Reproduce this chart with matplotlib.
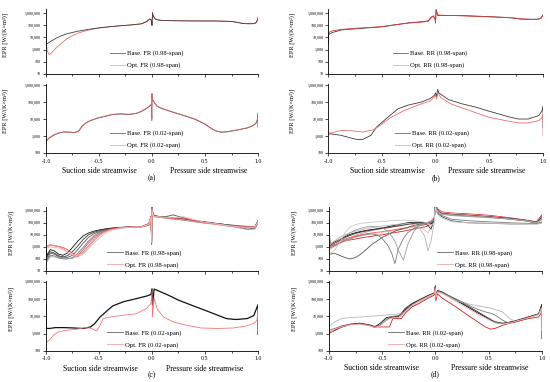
import matplotlib
matplotlib.use("Agg")
import matplotlib.pyplot as plt
from matplotlib.lines import Line2D
from matplotlib.ticker import FixedLocator, FuncFormatter, MultipleLocator, NullLocator
import matplotlib.transforms as mtransforms

# ---------------- DATA ----------------
# (a) FR, 0.98-span
A_TOP_BASE_X = [-1.0, -0.99, -0.95, -0.9, -0.85, -0.8, -0.7, -0.6, -0.5, -0.4, -0.3, -0.2, -0.1, -0.05, -0.02,
                -0.005, 0.0, 0.005, 0.01, 0.03, 0.06, 0.1, 0.2, 0.4, 0.6, 0.75, 0.8, 0.85, 0.9, 0.95, 0.98, 0.995, 1.0]
A_TOP_BASE_Y = [2500, 3000, 5000, 9000, 14000, 20000, 32000, 45000, 60000, 75000, 90000, 105000, 130000, 200000,
                330000, 250000, 100000, 1000000, 600000, 320000, 260000, 240000, 230000, 220000, 220000, 200000,
                170000, 140000, 130000, 130000, 150000, 250000, 400000]
A_TOP_OPT_X = [-1.0, -0.995, -0.99, -0.97, -0.95, -0.9, -0.85, -0.8, -0.75, -0.7, -0.6, -0.5, -0.4, -0.3, -0.2,
               -0.1, -0.05, -0.02, -0.005, 0.0, 0.005, 0.01, 0.03, 0.06, 0.1, 0.2, 0.4, 0.6, 0.75, 0.8, 0.85, 0.9,
               0.95, 0.98, 0.995, 1.0]
A_TOP_OPT_Y = [40000, 3000, 800, 400, 500, 1500, 3500, 8000, 14000, 22000, 40000, 58000, 74000, 88000, 102000,
               125000, 190000, 320000, 240000, 90000, 1100000, 650000, 330000, 265000, 245000, 235000, 225000,
               222000, 205000, 175000, 145000, 135000, 135000, 160000, 300000, 450000]

# (a) FR, 0.02-span
A_BOT_X = [-1.0, -0.97, -0.93, -0.88, -0.83, -0.78, -0.73, -0.69, -0.66, -0.62, -0.58, -0.52, -0.45, -0.38, -0.3,
           -0.22, -0.15, -0.1, -0.05, -0.02, -0.005, -0.002, 0.0, 0.003, 0.01, 0.03, 0.05, 0.1, 0.2, 0.3, 0.4, 0.5,
           0.55, 0.6, 0.65, 0.7, 0.8, 0.9, 0.95, 0.98, 0.995, 1.0, 1.0]
A_BOT_BASE_Y = [500, 750, 1100, 1500, 1750, 1700, 1600, 2000, 3800, 6000, 8000, 11000, 14000, 18000, 20000, 18500,
                21000, 28000, 42000, 60000, 70000, 10000, 300000, 150000, 120000, 80000, 55000, 40000, 25000, 16000,
                10000, 5000, 3000, 2000, 1700, 1750, 2200, 3000, 4000, 5500, 9000, 20000, 3500]
A_BOT_OPT_Y = [520, 780, 1150, 1550, 1700, 1650, 1550, 1900, 3600, 6200, 8300, 11500, 14500, 18500, 20500, 19000,
               21500, 29000, 44000, 62000, 75000, 8000, 320000, 160000, 125000, 82000, 56000, 41000, 25500, 16500,
               10500, 5200, 3100, 2050, 1700, 1750, 2250, 3050, 4100, 5700, 10000, 22000, 3000]

# (b) RR, 0.98-span
B_TOP_BASE_X = [-1.0, -1.0, -0.99, -0.96, -0.88, -0.75, -0.6, -0.5, -0.4, -0.25, -0.13, -0.07, -0.04, -0.02,
                -0.005, 0.0, 0.005, 0.02, 0.05, 0.2, 0.5, 0.7, 0.8, 0.9, 0.95, 0.98, 1.0]
B_TOP_BASE_Y = [5000, 20000, 18000, 25000, 40000, 50000, 63000, 74000, 100000, 155000, 190000, 220000, 450000,
                550000, 350000, 200000, 2000000, 630000, 620000, 630000, 500000, 400000, 310000, 300000, 310000,
                380000, 750000]
B_TOP_OPT_X = [-1.0, -1.0, -0.995, -0.98, -0.95, -0.88, -0.75, -0.6, -0.5, -0.4, -0.25, -0.13, -0.07, -0.04, -0.02,
               -0.005, 0.0, 0.005, 0.02, 0.05, 0.2, 0.5, 0.7, 0.8, 0.9, 0.95, 0.98, 1.0]
B_TOP_OPT_Y = [100000, 3000, 20000, 30000, 35000, 45000, 55000, 66000, 76000, 100000, 150000, 180000, 200000,
               400000, 600000, 300000, 150000, 1500000, 700000, 650000, 600000, 480000, 420000, 330000, 300000,
               300000, 350000, 650000]

# (b) RR, 0.02-span
B_BOT_BASE_X = [-1.0, -0.98, -0.88, -0.8, -0.73, -0.68, -0.6, -0.55, -0.48, -0.42, -0.35, -0.25, -0.13, -0.05,
                -0.01, 0.0, 0.01, 0.02, 0.03, 0.05, 0.12, 0.24, 0.37, 0.49, 0.68, 0.77, 0.86, 0.96, 0.99, 1.0, 1.0]
B_BOT_BASE_Y = [1300, 1350, 1100, 800, 620, 620, 1100, 3300, 8000, 17000, 40000, 67000, 100000, 160000, 250000,
                350000, 200000, 550000, 350000, 280000, 140000, 80000, 51000, 30000, 13500, 10000, 10000, 16000,
                30000, 60000, 3000]
B_BOT_OPT_X = [-1.0, -1.0, -0.98, -0.88, -0.77, -0.68, -0.58, -0.52, -0.42, -0.3, -0.16, -0.05, -0.01, 0.0, 0.01,
               0.02, 0.05, 0.15, 0.27, 0.49, 0.68, 0.77, 0.86, 0.96, 0.99, 1.0, 1.0]
B_BOT_OPT_Y = [5000, 1500, 1500, 2100, 2000, 1700, 2300, 4000, 12000, 30000, 67000, 115000, 200000, 250000, 150000,
               350000, 180000, 74000, 40000, 13000, 7400, 5900, 5900, 8000, 12000, 20000, 1000]

# (c) FR, 0.98-span, several time instants
C_TOP_X = [-1.0, -0.99, -0.96, -0.92, -0.88, -0.84, -0.8, -0.75, -0.7, -0.65, -0.6, -0.55, -0.5, -0.45, -0.4, -0.3,
           -0.2, -0.1, -0.03, -0.01, -0.003, 0.0, 0.01, 0.03, 0.1, 0.2, 0.3, 0.4, 0.5, 0.6, 0.7, 0.8, 0.9, 0.97, 1.0]
C_TOP_BASE = [
    [1000, 200, 600, 450, 250, 200, 300, 900, 3000, 8000, 14000, 20000, 25000, 30000, 35000, 42000, 46000, 48000,
     80000, 280000, 3000, 2000000, 500000, 380000, 300000, 230000, 180000, 140000, 110000, 85000, 65000, 50000,
     40000, 45000, 160000],
    [700, 150, 400, 300, 180, 150, 180, 400, 1200, 4000, 10000, 16000, 22000, 28000, 33000, 40000, 45000, 47000,
     70000, 320000, 2000, 1800000, 450000, 350000, 320000, 260000, 200000, 150000, 120000, 90000, 70000, 55000,
     45000, 40000, 120000],
    [500, 100, 300, 250, 150, 120, 130, 200, 600, 2000, 6000, 12000, 18000, 25000, 30000, 40000, 44000, 46000,
     60000, 250000, 1500, 1500000, 420000, 330000, 280000, 450000, 250000, 140000, 110000, 90000, 70000, 45000,
     30000, 35000, 100000],
    [400, 80, 200, 180, 120, 100, 100, 130, 300, 900, 3000, 8000, 15000, 22000, 28000, 38000, 43000, 45000, 75000,
     300000, 2500, 1900000, 480000, 360000, 300000, 220000, 170000, 130000, 100000, 85000, 70000, 60000, 50000,
     45000, 140000],
    [300, 60, 150, 150, 130, 110, 100, 110, 180, 400, 1200, 4000, 10000, 18000, 25000, 35000, 42000, 45000, 65000,
     220000, 3000, 1700000, 400000, 320000, 260000, 200000, 160000, 120000, 95000, 75000, 60000, 40000, 28000,
     30000, 90000],
]
C_TOP_OPT = [
    [1000, 1200, 1500, 1300, 1100, 900, 600, 300, 200, 600, 2000, 6000, 12000, 20000, 28000, 40000, 45000, 47000,
     90000, 350000, 3000, 1500000, 400000, 330000, 280000, 230000, 250000, 150000, 100000, 80000, 60000, 50000,
     45000, 50000, 120000],
    [800, 1000, 1300, 1200, 1000, 700, 400, 200, 150, 300, 1000, 3000, 8000, 16000, 25000, 38000, 44000, 46000,
     80000, 300000, 2000, 1300000, 380000, 300000, 260000, 200000, 180000, 130000, 90000, 75000, 55000, 45000,
     40000, 45000, 100000],
    [600, 800, 1000, 900, 800, 600, 400, 250, 200, 250, 700, 2000, 5000, 12000, 22000, 36000, 43000, 45000, 70000,
     280000, 2500, 1200000, 400000, 320000, 300000, 260000, 320000, 180000, 110000, 85000, 60000, 48000, 40000,
     42000, 140000],
]

# (c) FR, 0.02-span
C_BOT_BASE_X = [-1.0, -1.0, -0.97, -0.91, -0.83, -0.74, -0.65, -0.58, -0.54, -0.49, -0.43, -0.37, -0.27, -0.18,
                -0.05, -0.01, 0.0, 0.005, 0.02, 0.05, 0.14, 0.25, 0.35, 0.52, 0.7, 0.79, 0.9, 0.96, 1.0, 1.0]
C_BOT_BASE_Y = [40000, 2000, 1950, 2200, 2200, 2100, 1950, 2400, 3800, 9000, 19500, 40000, 70000, 95000, 150000,
                185000, 400000, 45000, 380000, 320000, 185000, 87000, 50000, 20000, 7400, 6500, 7400, 11000, 47000,
                900]
C_BOT_OPT_X = [-1.0, -0.97, -0.93, -0.88, -0.8, -0.71, -0.63, -0.57, -0.54, -0.52, -0.49, -0.46, -0.4, -0.27,
               -0.15, -0.05, -0.01, 0.0, 0.005, 0.02, 0.05, 0.11, 0.2, 0.33, 0.46, 0.62, 0.77, 0.89, 0.96, 0.99,
               1.0, 1.0]
C_BOT_OPT_Y = [300, 400, 800, 1250, 1550, 1780, 2200, 2000, 1550, 1400, 3000, 7400, 9000, 11500, 14000, 29000,
               56000, 300000, 9000, 110000, 26000, 9000, 4700, 3000, 2100, 1950, 2100, 2750, 3800, 5900, 27000, 1000]

# (d) RR, 0.98-span, several time instants
D_TOP_X = [-1.0, -0.99, -0.95, -0.9, -0.85, -0.8, -0.75, -0.7, -0.65, -0.6, -0.55, -0.5, -0.45, -0.41, -0.38,
           -0.35, -0.3, -0.26, -0.2, -0.15, -0.1, -0.07, -0.04, -0.01, 0.0, 0.02, 0.06, 0.15, 0.3, 0.5, 0.7, 0.85,
           0.95, 1.0]
D_TOP_BASE = [
    [100000, 1500, 2500, 4000, 7000, 11000, 15000, 19000, 23000, 27000, 31000, 36000, 45000, 55000, 62000, 70000,
     85000, 100000, 110000, 110000, 100000, 90000, 80000, 150000, 3000000, 1000000, 600000, 500000, 420000,
     320000, 230000, 160000, 110000, 250000],
    [30000, 1200, 2000, 3500, 6000, 9000, 13000, 17000, 21000, 25000, 30000, 35000, 40000, 45000, 50000, 55000,
     65000, 75000, 90000, 100000, 95000, 60000, 30000, 200000, 2500000, 900000, 550000, 450000, 380000, 300000,
     200000, 140000, 95000, 200000],
    [300, 250, 300, 200, 130, 100, 130, 250, 600, 1500, 3000, 6000, 10000, 15000, 20000, 25000, 32000, 42000,
     60000, 75000, 90000, 100000, 120000, 200000, 2000000, 600000, 320000, 150000, 100000, 90000, 80000, 80000,
     85000, 100000],
    [1000, 800, 1200, 2000, 3500, 5000, 7000, 9000, 11000, 12000, 10000, 5000, 1500, 300, 40, 600, 5000, 15000,
     35000, 55000, 70000, 80000, 100000, 180000, 2500000, 700000, 400000, 200000, 150000, 120000, 100000, 90000,
     80000, 120000],
    [2000, 1000, 2000, 4000, 8000, 15000, 25000, 35000, 45000, 50000, 50000, 40000, 20000, 8000, 3000, 600, 80,
     1500, 20000, 60000, 90000, 110000, 130000, 160000, 2800000, 800000, 500000, 400000, 330000, 260000, 200000,
     150000, 100000, 220000],
    [50000, 1500, 3000, 6000, 10000, 15000, 20000, 26000, 32000, 38000, 45000, 52000, 60000, 66000, 70000, 75000,
     80000, 85000, 70000, 40000, 8000, 450, 3000, 120000, 2200000, 900000, 550000, 470000, 400000, 300000, 210000,
     150000, 100000, 180000],
    [500, 300, 500, 2000, 15000, 45000, 70000, 90000, 100000, 110000, 120000, 130000, 140000, 150000, 155000,
     160000, 160000, 160000, 150000, 130000, 110000, 90000, 60000, 100000, 1800000, 500000, 250000, 120000,
     100000, 90000, 85000, 80000, 75000, 90000],
]
D_TOP_OPT = [
    [200000, 1000, 1500, 2200, 3000, 3800, 4500, 5500, 6500, 7500, 9000, 10000, 12000, 14000, 15000, 17000, 20000,
     24000, 30000, 38000, 45000, 55000, 80000, 180000, 4000000, 1500000, 800000, 650000, 550000, 420000, 260000,
     170000, 120000, 450000],
    [80000, 1200, 2000, 3000, 4500, 6000, 8000, 10000, 12000, 14000, 16000, 18000, 21000, 24000, 27000, 30000,
     35000, 40000, 50000, 60000, 70000, 90000, 120000, 250000, 3500000, 1200000, 700000, 600000, 500000, 380000,
     240000, 160000, 110000, 350000],
    [30000, 800, 1300, 2500, 4000, 6000, 9000, 13000, 17000, 22000, 27000, 32000, 38000, 44000, 48000, 52000,
     60000, 70000, 80000, 90000, 100000, 110000, 150000, 300000, 3000000, 1000000, 650000, 550000, 450000,
     350000, 220000, 150000, 100000, 300000],
    [5000, 600, 1000, 1800, 3000, 4500, 6000, 8000, 10000, 12000, 14000, 16000, 18000, 20000, 22000, 25000, 30000,
     36000, 45000, 40000, 25000, 15000, 40000, 200000, 2500000, 1100000, 700000, 580000, 480000, 360000, 230000,
     155000, 105000, 280000],
]

# (d) RR, 0.02-span
D_BOT_X = [-1.0, -1.0, -0.97, -0.94, -0.88, -0.8, -0.71, -0.62, -0.57, -0.52, -0.46, -0.43, -0.4, -0.35, -0.32,
           -0.28, -0.22, -0.16, -0.07, -0.01, 0.0, 0.005, 0.02, 0.06, 0.2, 0.31, 0.4, 0.47, 0.52, 0.56, 0.63, 0.69,
           0.75, 0.88, 0.97, 1.0, 1.0]
D_BOT_BASE = [
    [15000, 1000, 1300, 1550, 2400, 3300, 3800, 3000, 2400, 3800, 8300, 9000, 9000, 9000, 13500, 25000, 50000,
     80000, 155000, 220000, 600000, 120000, 300000, 250000, 80000, 33000, 15500, 9000, 6000, 4300, 3800, 4300,
     5200, 9000, 13500, 50000, 2000],
    [8000, 1100, 1400, 1700, 2600, 3500, 4000, 3200, 2600, 3000, 6000, 8000, 9500, 10000, 15000, 30000, 55000,
     85000, 160000, 230000, 550000, 150000, 320000, 270000, 90000, 38000, 18000, 10000, 6500, 4800, 4000, 4500,
     5500, 9500, 14000, 40000, 2500],
    [2500, 2500, 3500, 5000, 7400, 8500, 9000, 10000, 10500, 11000, 12000, 12500, 13000, 13500, 14000, 20000,
     35000, 60000, 130000, 200000, 450000, 160000, 280000, 230000, 80000, 52000, 40000, 34000, 30000, 25000,
     18000, 8000, 5000, 8000, 13000, 30000, 3000],
    [5000, 1500, 1800, 2000, 2800, 3500, 3600, 3000, 2200, 3000, 7000, 9000, 10000, 11000, 12000, 22000, 45000,
     75000, 140000, 210000, 500000, 130000, 280000, 240000, 100000, 45000, 25000, 18000, 15000, 12000, 6000, 4000,
     4500, 8500, 13000, 35000, 2200],
]
D_BOT_OPT = [
    [5000, 1000, 1300, 1700, 2400, 3300, 3800, 3000, 2400, 2400, 2400, 2400, 7400, 7400, 7400, 16000, 35000, 52000,
     110000, 170000, 500000, 80000, 200000, 120000, 33000, 11000, 4700, 2400, 1800, 1950, 3000, 3800, 4700, 7400,
     9000, 17500, 500],
    [3000, 1100, 1400, 1800, 2500, 3200, 3500, 2800, 2300, 2800, 6000, 7000, 8000, 8500, 10000, 20000, 42000,
     70000, 140000, 200000, 400000, 120000, 250000, 220000, 70000, 28000, 13000, 8000, 5500, 4200, 3600, 4000,
     5000, 8500, 12000, 30000, 1500],
]

Y_TICKS_TOP = [10, 100, 1000, 10000, 100000, 1000000]
Y_TICKS_BOT = [100, 1000, 10000, 100000, 1000000]
X_TICKS = [-1.0, -0.5, 0.0, 0.5, 1.0]
# ------------------------------------------------------------

plt.rcParams['font.family'] = 'serif'
plt.rcParams['font.serif'] = ['Liberation Serif', 'DejaVu Serif']

BASE_C = '#3c3c3c'
OPT_C = '#ec6a6a'
BASE_SHADES = ['#111111', '#333333', '#555555', '#7a7a7a', '#9a9a9a', '#b5b5b5', '#c8c8c8']
OPT_SHADES = ['#d81e1e', '#e85050', '#f08a8a', '#f6b4b4']
LW = 0.6

fig = plt.figure(figsize=(5.5, 3.82), dpi=100)

# axes rectangles (figure fractions)
LEFT = {'a': 0.0836, 'b': 0.5964, 'c': 0.0836, 'd': 0.598}
WIDTH = {'a': 0.3855, 'b': 0.391, 'c': 0.3855, 'd': 0.387}
TOP_ROW = {'a': (0.8063, 0.1694), 'b': (0.8063, 0.1694), 'c': (0.2906, 0.1673), 'd': (0.2906, 0.1673)}
BOT_ROW = {'a': (0.5995, 0.1814), 'b': (0.5995, 0.1814), 'c': (0.0819, 0.1838), 'd': (0.0819, 0.1838)}
YLAB_X = {'a': -0.18, 'b': -0.153, 'c': -0.152, 'd': -0.15}


def comma(v, pos):
    return f"{int(round(v)):,}"


def style(ax, top, key):
    for s in ['top', 'right']:
        ax.spines[s].set_visible(False)
    for s in ['left', 'bottom']:
        ax.spines[s].set_linewidth(0.6)
    ax.set_yscale('log')
    ax.set_xlim(-1.0, 1.0)
    if top:
        ax.set_ylim(10, 2e6)
        ax.yaxis.set_major_locator(FixedLocator(Y_TICKS_TOP))
    else:
        ax.set_ylim(100, 1.2e6)
        ax.yaxis.set_major_locator(FixedLocator(Y_TICKS_BOT))
    ax.yaxis.set_minor_locator(NullLocator())
    ax.yaxis.set_major_formatter(FuncFormatter(comma))
    ax.xaxis.set_major_locator(FixedLocator(X_TICKS))
    ax.xaxis.set_minor_locator(MultipleLocator(0.25))
    ax.tick_params(axis='y', which='major', direction='out', length=2, width=0.5, labelsize=2.9, pad=1.5)
    ax.tick_params(axis='x', which='major', direction='out', length=2.5, width=0.5, labelsize=4.2, pad=1.5)
    ax.tick_params(axis='x', which='minor', direction='out', length=1.5, width=0.5)
    if top:
        ax.tick_params(axis='x', labelbottom=False)
    else:
        ax.xaxis.set_major_formatter(FuncFormatter(lambda v, p: f"{v:.1f}"))
    ax.set_ylabel("EPR [W/(K×m³)]", fontsize=4.5, labelpad=0)
    ax.yaxis.set_label_coords(YLAB_X[key], 0.6)


def add_legend(ax, base_lab, opt_lab, x0, y0):
    handles = [Line2D([], [], color='#666666', lw=0.6), Line2D([], [], color='#f4a4a4', lw=0.6)]
    ax.legend(handles, [base_lab, opt_lab], loc='lower left', bbox_to_anchor=(x0, y0), frameon=False,
              fontsize=4.8, handlelength=2.3, handletextpad=0.3, labelspacing=0.9, borderpad=0,
              borderaxespad=0)


axes = {}
for key in 'abcd':
    t = fig.add_axes([LEFT[key], TOP_ROW[key][0], WIDTH[key], TOP_ROW[key][1]])
    b = fig.add_axes([LEFT[key], BOT_ROW[key][0], WIDTH[key], BOT_ROW[key][1]])
    style(t, True, key)
    style(b, False, key)
    axes[key] = (t, b)

# ---- (a)
t, b = axes['a']
t.plot(A_TOP_OPT_X, A_TOP_OPT_Y, color=OPT_C, lw=LW)
t.plot(A_TOP_BASE_X, A_TOP_BASE_Y, color=BASE_C, lw=LW)
b.plot(A_BOT_X, A_BOT_BASE_Y, color=BASE_C, lw=LW)
b.plot(A_BOT_X, A_BOT_OPT_Y, color=OPT_C, lw=LW, alpha=0.85)
add_legend(t, "Base. FR (0.98-span)", "Opt. FR (0.98-span)", 0.30, 0.085)
add_legend(b, "Base. FR (0.02-span)", "Opt. FR (0.02-span)", 0.30, 0.065)

# ---- (b)
t, b = axes['b']
t.plot(B_TOP_BASE_X, B_TOP_BASE_Y, color=BASE_C, lw=LW)
t.plot(B_TOP_OPT_X, B_TOP_OPT_Y, color='#e23a3a', lw=LW)
b.plot(B_BOT_BASE_X, B_BOT_BASE_Y, color=BASE_C, lw=LW)
b.plot(B_BOT_OPT_X, B_BOT_OPT_Y, color=OPT_C, lw=LW)
add_legend(t, "Base. RR (0.98-span)", "Opt. RR (0.98-span)", 0.30, 0.085)
add_legend(b, "Base. RR (0.02-span)", "Opt. RR (0.02-span)", 0.31, 0.065)

# ---- (c)
t, b = axes['c']
for i, y in enumerate(C_TOP_BASE):
    t.plot(C_TOP_X, y, color=BASE_SHADES[i], lw=LW)
for i, y in enumerate(C_TOP_OPT):
    t.plot(C_TOP_X, y, color=OPT_SHADES[i + 1], lw=LW)
b.plot(C_BOT_BASE_X, C_BOT_BASE_Y, color='#111111', lw=0.9)
b.plot(C_BOT_OPT_X, C_BOT_OPT_Y, color='#f07a7a', lw=LW)
add_legend(t, "Base. FR (0.98-span)", "Opt. FR (0.98-span)", 0.29, 0.05)
add_legend(b, "Base. FR (0.02-span)", "Opt. FR (0.02-span)", 0.29, 0.045)

# ---- (d)
t, b = axes['d']
for i, y in enumerate(D_TOP_OPT):
    t.plot(D_TOP_X, y, color=OPT_SHADES[i], lw=LW)
for i, y in enumerate(D_TOP_BASE):
    t.plot(D_TOP_X, y, color=BASE_SHADES[i], lw=LW)
for i, y in enumerate(D_BOT_BASE):
    b.plot(D_BOT_X, y, color=BASE_SHADES[[0, 1, 5, 3][i]], lw=LW)
for i, y in enumerate(D_BOT_OPT):
    b.plot(D_BOT_X, y, color=OPT_SHADES[[0, 3][i]], lw=LW)
add_legend(t, "Base. RR (0.98-span)", "Opt. RR (0.98-span)", 0.51, 0.05)
add_legend(b, "Base. RR (0.02-span)", "Opt. RR (0.02-span)", 0.28, 0.045)

# ---- bottom captions
CAPTION_Y = {'a': (1 - 171 / 382, 1 - 178 / 382), 'b': (1 - 171 / 382, 1 - 178 / 382),
             'c': (1 - 369 / 382, 1 - 375 / 382), 'd': (1 - 368 / 382, 1 - 374 / 382)}
SUCTION_X = {'a': -0.5, 'b': -0.45, 'c': -0.49, 'd': -0.51}
PRESSURE_X = {'a': 0.535, 'b': 0.475, 'c': 0.5, 'd': 0.51}
for key in 'abcd':
    b = axes[key][1]
    tr = mtransforms.blended_transform_factory(b.transData, fig.transFigure)
    ty, ly = CAPTION_Y[key]
    b.text(SUCTION_X[key], ty, "Suction side streamwise", transform=tr, ha='center', va='center', fontsize=5.6)
    b.text(PRESSURE_X[key], ty, "Pressure side streamwise", transform=tr, ha='center', va='center', fontsize=5.6)
    b.text(0.0, ly, f"({key})", transform=tr, ha='center', va='center', fontsize=5.5)

fig.savefig("out.png", dpi=100)
